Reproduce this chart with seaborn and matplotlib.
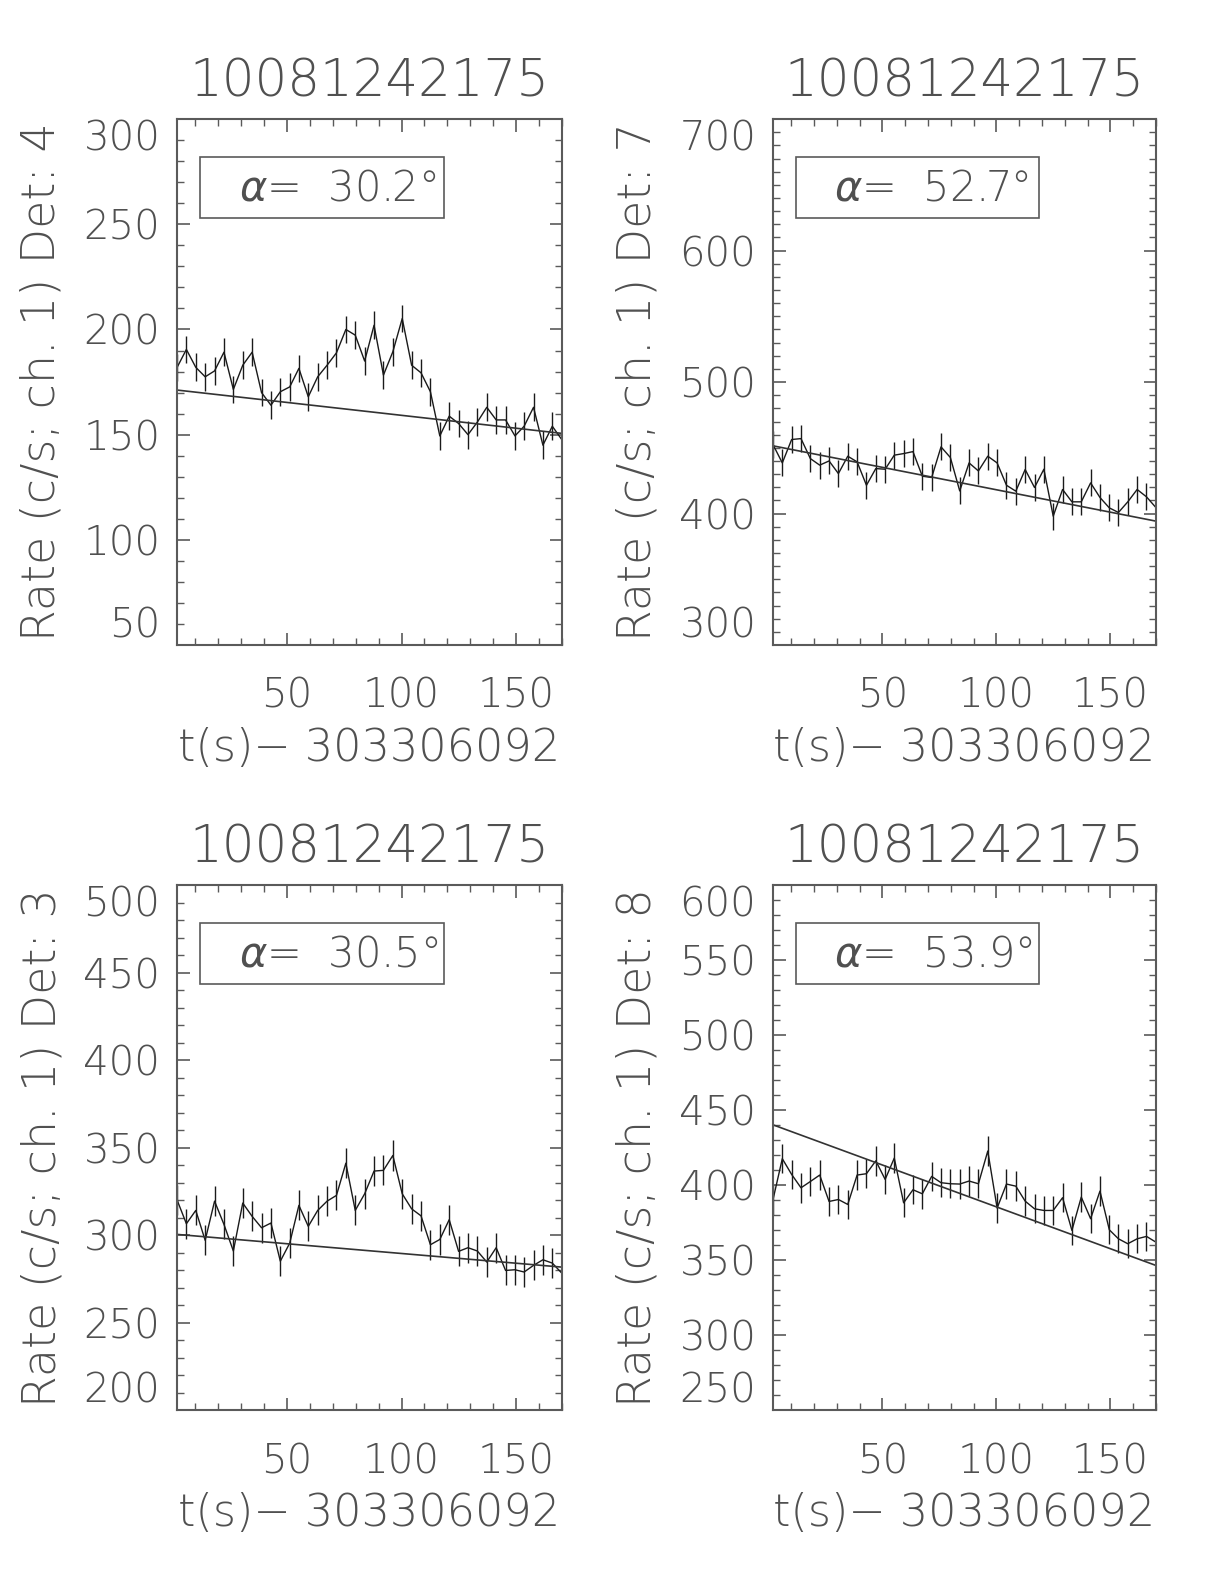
import numpy as np
import pandas as pd
import matplotlib
matplotlib.use("Agg")
import matplotlib.pyplot as plt
import seaborn as sns
from matplotlib.patches import Rectangle
from matplotlib.ticker import MultipleLocator

# time bins (s since 303306092), 4.096 s CSPEC bins
t_sec = [2.0, 6.1, 10.2, 14.3, 18.4, 22.5, 26.6, 30.7, 34.8, 38.9,
         43.0, 47.1, 51.2, 55.2, 59.3, 63.4, 67.5, 71.6, 75.7, 79.8,
         83.9, 88.0, 92.1, 96.2, 100.3, 104.4, 108.5, 112.6, 116.7, 120.8,
         124.9, 129.0, 133.1, 137.2, 141.3, 145.4, 149.5, 153.5, 157.6, 161.7,
         165.8, 169.9]

rate_det4 = [181.9, 190.5, 182.0, 177.5, 180.3, 189.2, 171.5, 183.0, 189.2, 170.0,
             164.0, 170.4, 172.7, 181.5, 168.0, 177.5, 183.0, 188.9, 200.0, 197.3,
             185.0, 202.0, 178.3, 189.4, 205.2, 183.0, 179.4, 170.4, 149.4, 158.8,
             155.3, 150.0, 156.0, 163.0, 157.0, 157.0, 149.4, 154.0, 163.0, 145.0,
             154.0, 147.7]
rate_det7 = [452.5, 438.5, 456.3, 457.0, 441.8, 436.8, 440.0, 430.4, 443.6, 439.3,
             421.5, 434.2, 433.7, 444.4, 445.6, 447.1, 428.4, 427.4, 450.7, 442.6,
             417.2, 438.5, 432.4, 443.6, 438.5, 421.5, 417.0, 433.5, 419.8, 433.7,
             398.0, 418.3, 408.9, 408.9, 423.3, 412.2, 404.3, 400.8, 408.9, 418.3,
             412.7, 404.6]
rate_det3 = [320.2, 306.5, 314.1, 297.0, 319.4, 306.1, 290.9, 318.3, 310.7, 304.2,
             306.9, 285.1, 295.4, 317.0, 305.0, 314.1, 319.4, 322.7, 341.1, 314.1,
             323.6, 336.6, 337.0, 345.5, 323.6, 315.0, 311.0, 294.5, 297.5, 308.8,
             290.7, 292.8, 290.9, 284.6, 292.8, 279.8, 280.2, 278.9, 282.7, 285.9,
             284.0, 278.3]
rate_det8 = [390.2, 417.6, 407.1, 398.2, 402.4, 406.7, 389.1, 390.4, 387.1, 406.7,
             407.6, 416.2, 403.8, 418.0, 388.2, 396.9, 394.2, 405.8, 401.6, 400.9,
             400.7, 402.7, 400.9, 422.7, 384.7, 400.7, 399.3, 389.3, 384.2, 383.1,
             383.1, 391.6, 369.8, 392.0, 377.6, 396.0, 370.2, 364.2, 360.9, 364.2,
             365.8, 362.0]

# error bar half-lengths per detector
err_det = {4: 6.6, 7: 10.3, 3: 8.6, 8: 9.8}
# background fit line, value at start and end of the window
bkg_t = [2.0, 170.0]
bkg_det = {4: [171.2, 150.6], 7: [451.5, 394.2], 3: [300.4, 281.7], 8: [440.2, 346.4]}
alpha_det = {4: 30.2, 7: 52.7, 3: 30.5, 8: 53.9}
ylim_det = {4: (50, 300), 7: (300, 700), 3: (200, 500), 8: (250, 600)}
ymajor_det = {4: 50, 7: 100, 3: 50, 8: 50}

title = "10081242175"
t_offset = "303306092"

sns.set_theme(style="white")
plt.rcParams['font.family'] = ['DejaVu Sans']
plt.rcParams['font.weight'] = 'light'
plt.rcParams['axes.labelweight'] = 'light'
plt.rcParams['axes.titleweight'] = 'light'
plt.rcParams['mathtext.fontset'] = 'custom'
plt.rcParams['mathtext.rm'] = 'DejaVu Sans:light'
plt.rcParams['mathtext.it'] = 'DejaVu Sans:italic:light'

TXT = "#505050"
AXC = "#5a5a5a"
LINE = "#1a1a1a"

fig = plt.figure(figsize=(12.24, 15.84), dpi=100)

layout = [
    (4, rate_det4, [0.1446, 0.5928, 0.3145, 0.332]),
    (7, rate_det7, [0.6315, 0.5928, 0.3130, 0.332]),
    (3, rate_det3, [0.1446, 0.1098, 0.3145, 0.3314]),
    (8, rate_det8, [0.6315, 0.1098, 0.3130, 0.3314]),
]

for det, rate, pos in layout:
    ax = fig.add_axes(pos)
    df = pd.DataFrame({'t': t_sec, 'rate': rate})

    ax.errorbar(df['t'], df['rate'], yerr=err_det[det], fmt='none',
                ecolor=LINE, elinewidth=1.0, capsize=0)
    sns.lineplot(data=df, x='t', y='rate', ax=ax, color=LINE, lw=1.0,
                 estimator=None, sort=False)
    ax.plot(bkg_t, bkg_det[det], color="#333333", lw=1.2)

    ax.set_xlim(2, 170)
    ax.set_ylim(*ylim_det[det])
    ax.xaxis.set_major_locator(MultipleLocator(50))
    ax.xaxis.set_minor_locator(MultipleLocator(10))
    ax.yaxis.set_major_locator(MultipleLocator(ymajor_det[det]))
    ax.yaxis.set_minor_locator(MultipleLocator(10))

    ax.tick_params(which='both', direction='in', top=True, right=True,
                   bottom=True, left=True, colors=AXC, labelcolor=TXT,
                   labelsize=29)
    ax.tick_params(which='major', length=9, width=1.2)
    ax.tick_params(which='minor', length=5, width=1.0)
    ax.tick_params(axis='x', pad=23)
    ax.tick_params(axis='y', pad=12)
    for sp in ax.spines.values():
        sp.set_color(AXC)
        sp.set_linewidth(1.5)

    ax.set_xlabel(f"t(s)\u2212 {t_offset}", fontsize=32, color=TXT, labelpad=8,
                  fontweight='light')
    ax.set_ylabel(f"Rate (c/s; ch. 1) Det: {det}", fontsize=33, color=TXT,
                  labelpad=14, fontweight='light')
    ax.set_title(title, fontsize=37, color=TXT, pad=16, fontweight='light')

    # keep the end labels inside the frame like the original
    fig.canvas.draw()
    ylabels = ax.get_yticklabels()
    ylocs = ax.get_yticks()
    lo, hi = ylim_det[det]
    for lab, v in zip(ylabels, ylocs):
        if abs(v - lo) < 1e-6:
            lab.set_va('bottom')
        elif abs(v - hi) < 1e-6:
            lab.set_va('top')

    ax.add_patch(Rectangle((0.06, 0.812), 0.634, 0.116, transform=ax.transAxes,
                           fill=False, edgecolor=AXC, lw=1.2))
    ax.text(0.16, 0.869, rf"$\alpha$=  {alpha_det[det]}°", transform=ax.transAxes,
            fontsize=30, color=TXT, ha='left', va='center')

fig.savefig("out.png", dpi=100)
